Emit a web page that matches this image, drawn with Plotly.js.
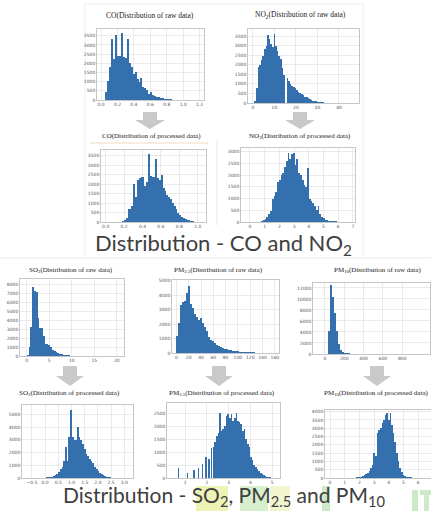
<!DOCTYPE html>
<html><head><meta charset="utf-8">
<script src="https://cdn.plot.ly/plotly-3.0.1.min.js"></script>
<style>html,body{margin:0;padding:0;background:#fff;}#c{width:431px;height:511px;}</style>
</head><body><div id="c"></div>
<script>
// ---- DATA (bin start, bin width, counts) ----
const coRawStart = 0.06, coRawWidth = 0.024;
const coRawCounts = [450,1050,1800,3350,2250,3550,2400,2400,3650,2350,2300,3300,2000,1800,1400,1550,1150,1000,1200,700,650,550,350,420,280,230,170,150,110,90,70,55,40,30,25,20,15,12,10,8,6,5,4,3,2,2];

const no2RawStart = 1.0, no2RawWidth = 0.75;
const no2RawCounts = [120,800,1900,2000,2250,2450,2800,3000,3580,3350,3100,2950,3600,3000,2700,2450,2300,1850,1450,0,1300,1150,1000,900,820,760,700,600,520,460,400,340,290,240,200,160,130,100,80,65,50,40,32,25,20,15,12,10,8,6,5,4,3,3,2,2,1,1];

const coProcStart = 0.19, coProcWidth = 0.02;
const coProcCounts = [40,100,200,700,700,850,2000,1300,2200,2300,2350,2400,1900,2100,3600,2450,2400,2350,3300,2300,2200,2500,1800,1650,1400,1300,1200,1000,850,700,500,380,280,220,160,110,80,55,40,25,15,8];

const no2ProcStart = 0.46, no2ProcWidth = 0.12;
const no2ProcCounts = [10,15,20,40,70,120,220,330,450,1000,1100,1300,1700,1800,2000,2100,2350,2600,2930,2700,2900,2950,2450,2700,2100,2000,1800,1600,1500,2300,1000,900,800,700,500,700,350,220,150,100,70,55,45,35,30,25,20,15,10,8];

const so2RawStart = 0.2, so2RawWidth = 0.4;
const so2RawCounts = [150,1000,3200,7700,7200,7150,4200,3150,3100,2200,1350,1300,1250,950,700,520,420,330,260,200,150,110,85,60,45,35,28,22,18,15,12,10,8];

const pm25RawStart = 1.6, pm25RawWidth = 3.2;
const pm25RawCounts = [1200,2100,3300,3500,3600,4150,4650,3400,3100,2700,2500,2300,2450,2100,1800,1500,1100,900,800,700,550,480,400,350,300,260,230,200,170,150,130,110,95,80,70,60,50,45,40,35,30,25,20,18,15,12,10,8,6,5];

const pm10RawStart = 45, pm10RawWidth = 20;
const pm10RawCounts = [4100,12500,10300,7500,4100,1800,800,400,250,150,100,70,50,35,25,20,15,12,10,8,6,5,4,3,2,2,1];

const so2ProcStart = -0.45, so2ProcWidth = 0.065;
const so2ProcCounts = [5,5,8,10,12,15,20,30,40,50,70,100,150,250,350,500,700,900,1300,2400,1300,3200,5300,3200,3000,3000,4000,3200,3000,2700,2300,1900,1700,1500,1300,1200,900,700,550,420,320,230,160,110,70,45,30,20,12,8];

const pm25ProcWidth = 0.075;
const pm25ProcX = [0.69,1.10,1.39,1.61,1.79,1.95,2.08,2.20,2.30,2.375,2.45,2.525,2.60,2.675,2.75,2.825,2.90,2.975,3.05,3.125,3.20,3.275,3.35,3.425,3.50,3.575,3.65,3.725,3.80,3.875,3.95,4.025,4.10,4.175,4.25,4.325,4.40,4.475,4.55,4.625,4.70,4.775,4.85,4.925,5.00];
const pm25ProcCounts = [370,190,290,380,550,800,750,1150,1200,1400,1600,1750,2500,1800,1900,2000,2400,2450,2300,2450,2200,2300,2500,2200,2150,2100,1800,1900,1500,1300,1200,800,700,520,420,330,260,200,150,110,80,55,35,20,10];

const pm10ProcStart = 0.70, pm10ProcWidth = 0.11;
const pm10ProcCounts = [5,0,8,5,10,12,15,20,25,30,45,60,70,90,120,160,220,300,400,600,800,1500,1300,2700,2900,3000,3300,3500,3800,3900,3500,3900,3200,2700,2200,1500,1000,600,350,200,130,90,60,45,35,25,20,15,10,8,5];

const panelTitles = [
  "CO(Distribution of raw data)",
  "NO<sub>2</sub>(Distribution of raw data)",
  "CO(Distribution of processed data)",
  "NO<sub>2</sub>(Distribution of processed data)",
  "SO<sub>2</sub>(Distribution of raw data)",
  "PM<sub>2.5</sub>(Distribution of raw data)",
  "PM<sub>10</sub>(Distribution of raw data)",
  "SO<sub>2</sub>(Distribution of processed data)",
  "PM<sub>2.5</sub>(Distribution of processed data)",
  "PM<sub>10</sub>(Distribution of processed data)"
];
const bigTitle1 = "Distribution - CO and NO<sub>2</sub>";
const bigTitle2 = "Distribution - SO<sub>2</sub>, PM<sub>2.5</sub> and PM<sub>10</sub>";

// ---- helpers ----
const W = 431, H = 511;
const px = x => x / W, py = y => 1 - y / H;
function centers(start, width, n){ return Array.from({length:n}, (_,i) => +(start + i*width).toFixed(4)); }

const series = [
  {x: centers(coRawStart, coRawWidth, coRawCounts.length), y: coRawCounts, w: coRawWidth},
  {x: centers(no2RawStart, no2RawWidth, no2RawCounts.length), y: no2RawCounts, w: no2RawWidth},
  {x: centers(coProcStart, coProcWidth, coProcCounts.length), y: coProcCounts, w: coProcWidth},
  {x: centers(no2ProcStart, no2ProcWidth, no2ProcCounts.length), y: no2ProcCounts, w: no2ProcWidth},
  {x: centers(so2RawStart, so2RawWidth, so2RawCounts.length), y: so2RawCounts, w: so2RawWidth},
  {x: centers(pm25RawStart, pm25RawWidth, pm25RawCounts.length), y: pm25RawCounts, w: pm25RawWidth},
  {x: centers(pm10RawStart, pm10RawWidth, pm10RawCounts.length), y: pm10RawCounts, w: pm10RawWidth},
  {x: centers(so2ProcStart, so2ProcWidth, so2ProcCounts.length), y: so2ProcCounts, w: so2ProcWidth},
  {x: pm25ProcX, y: pm25ProcCounts, w: pm25ProcWidth},
  {x: centers(pm10ProcStart, pm10ProcWidth, pm10ProcCounts.length), y: pm10ProcCounts, w: pm10ProcWidth}
];

// frame pixel boxes [left,right,top,bottom], axis ranges and ticks
const frames = [
  {box:[97,204,29,100],   xr:[-0.049,1.253], yr:[0,3870],  xt:{tickvals:[0,0.2,0.4,0.6,0.8,1.0,1.2], tickformat:'.1f'}, yd:500},
  {box:[248,359,29,103],  xr:[-2.3,49.3],    yr:[0,3870],  xt:{dtick:10, tick0:0}, yd:500},
  {box:[101,206,150,222], xr:[-0.051,1.09],  yr:[0,3800],  xt:{tickvals:[0,0.2,0.4,0.6,0.8,1.0], tickformat:'.1f'}, yd:500},
  {box:[241,355,148,222], xr:[-0.61,7.14],   yr:[0,3160],  xt:{dtick:1, tick0:0}, yd:500},
  {box:[20,124,279,356],  xr:[-1.49,21.6],   yr:[0,8560],  xt:{dtick:5, tick0:0}, yd:1000},
  {box:[172,279,280,353], xr:[-7.2,166.8],   yr:[0,5040],  xt:{dtick:20, tick0:0}, yd:1000},
  {box:[313,430,283,354], xr:[-124,1088],    yr:[0,12900], xt:{tickvals:[0,200,400,600,800]}, yd:2000},
  {box:[22,133,405,478],  xr:[-0.877,3.33],  yr:[0,5730],  xt:{dtick:0.5, tick0:0, tickformat:'.1f'}, yd:1000},
  {box:[167,280,403,478], xr:[0.16,5.36],    yr:[0,2890],  xt:{dtick:1, tick0:0}, yd:500},
  {box:[325,431,410,478], xr:[-0.34,6.87],   yr:[0,4100],  xt:{dtick:1, tick0:0}, yd:500}
];

const barColor = '#3370ad';
const data = [];
const layout = {
  width: W, height: H, margin:{l:0,r:0,t:0,b:0},
  paper_bgcolor:'#fff', plot_bgcolor:'#fff', showlegend:false,
  bargap:0, barmode:'overlay',
  annotations:[], shapes:[]
};
const tickFont = {family:'DejaVu Sans, sans-serif', size:4.5, color:'#555'};

series.forEach((s, i) => {
  const n = i + 1, sfx = n === 1 ? '' : String(n);
  const f = frames[i];
  data.push({type:'bar', x:s.x, y:s.y, width:s.w, xaxis:'x'+sfx, yaxis:'y'+sfx,
    marker:{color:barColor, line:{width:0}}, hoverinfo:'skip'});
  layout['xaxis'+sfx] = Object.assign({
    domain:[px(f.box[0]), px(f.box[1])], range:f.xr, anchor:'y'+sfx,
    showgrid:true, gridcolor:'#dedede', gridwidth:0.6, zeroline:false,
    showline:true, mirror:true, linecolor:'#b8b8b8', linewidth:0.8,
    ticks:'', tickfont:tickFont, fixedrange:true
  }, f.xt);
  layout['yaxis'+sfx] = {
    domain:[py(f.box[3]), py(f.box[2])], range:f.yr, anchor:'x'+sfx,
    dtick:f.yd, tick0:0, tickformat:'d',
    showgrid:true, gridcolor:'#dedede', gridwidth:0.6, zeroline:false,
    showline:true, mirror:true, linecolor:'#b8b8b8', linewidth:0.8,
    ticks:'', tickfont:tickFont, fixedrange:true
  };
});

// panel titles
const titlePos = [
  [150,15,'center',7.5],[300,15,'center',7.5],[151,136,'center',7],[300,136,'center',7],
  [71,270,'center',7],[218,270,'center',7],[377,270,'center',7],
  [69,393,'center',7],[222,393,'center',7],[322,393,'left',7]
];
panelTitles.forEach((t,i) => {
  const p = titlePos[i];
  layout.annotations.push({text:t, xref:'paper', yref:'paper', x:px(p[0]), y:py(p[1]),
    xanchor:p[2], yanchor:'middle', showarrow:false,
    font:{family:'Liberation Serif, serif', size:p[3], color:'#222'}});
});
// big titles
layout.annotations.push({text:bigTitle1, xref:'paper', yref:'paper', x:px(223), y:py(244),
  xanchor:'center', yanchor:'middle', showarrow:false, font:{family:'Lato, sans-serif', size:22, color:'#404040'}});
layout.annotations.push({text:bigTitle2, xref:'paper', yref:'paper', x:px(224), y:0,
  xanchor:'center', yanchor:'bottom', showarrow:false, borderpad:0,
  font:{family:'Lato, sans-serif', size:21, color:'#404040'}});

// decorative shapes: arrows, separators, watermark blocks
function arrow(cx, yTop, yMid, yBot, sw, hw){
  const P = (x,y) => px(x)+','+py(y);
  return {type:'path', xref:'paper', yref:'paper', fillcolor:'#c9c9c9', line:{width:0},
    path:'M'+P(cx-sw/2,yTop)+' L'+P(cx+sw/2,yTop)+' L'+P(cx+sw/2,yMid)+' L'+P(cx+hw/2,yMid)+
         ' L'+P(cx,yBot)+' L'+P(cx-hw/2,yMid)+' L'+P(cx-sw/2,yMid)+' Z'};
}
function rect(x0,y0,x1,y1,fill){
  return {type:'rect', xref:'paper', yref:'paper', x0:px(x0), x1:px(x1), y0:py(y1), y1:py(y0),
    fillcolor:fill, line:{width:0}, layer:'below'};
}
function line(x0,y0,x1,y1,color){
  return {type:'line', xref:'paper', yref:'paper', x0:px(x0), x1:px(x1), y0:py(y0), y1:py(y1),
    line:{color:color, width:1}, layer:'below'};
}
layout.shapes.push(
  line(85,4,363,4,'#eeeeee'), line(85,4,85,256,'#eeeeee'), line(363,4,363,256,'#eeeeee'),
  line(0,258,431,258,'#e9e9e9'),
  line(90,143,208,143,'#f3d9c0'),
  line(217,140,217,225,'#e6e6e6'),
  arrow(150,112,120,129,14,30), arrow(300,112,120,129,14,30),
  arrow(70,366,376,386,14,28), arrow(219,366,376,386,14,28), arrow(377,366,376,386,14,28),
  rect(196,486,228,511,'rgba(214,228,90,0.45)'),
  rect(240,486,268,511,'rgba(150,212,120,0.38)'),
  rect(270,486,290,511,'rgba(225,235,150,0.45)'),
  rect(322,486,330,511,'rgba(120,200,110,0.38)'),
  rect(412,490,418,511,'rgba(120,200,110,0.38)'),
  rect(420,490,431,495,'rgba(120,200,110,0.38)'),
  rect(424,495,429,511,'rgba(120,200,110,0.38)')
);

Plotly.newPlot('c', data, layout, {staticPlot:true, displayModeBar:false});
</script>
</body></html>
